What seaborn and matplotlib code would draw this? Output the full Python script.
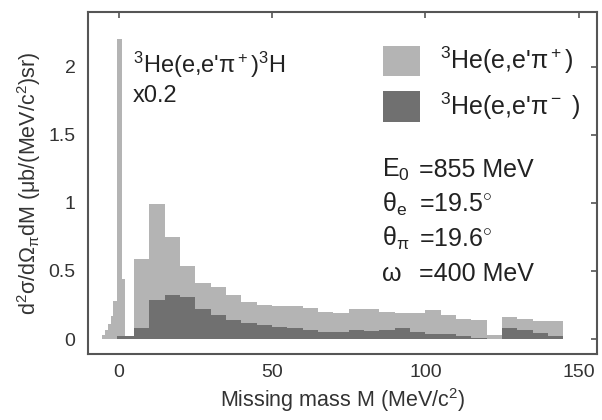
import numpy as np
import pandas as pd
import matplotlib
matplotlib.use("Agg")
import matplotlib.pyplot as plt
import seaborn as sns
from matplotlib.patches import Patch

# ==================================================
# DATA
# ==================================================

# bin edges in missing mass (MeV/c^2): fine bins around the 3H peak, then 5 MeV bins
edges = [-5.5, -4.5, -3.5, -2.5, -1.7, -0.6, 1.0, 2.2,
         5, 10, 15, 20, 25, 30, 35, 40, 45, 50, 55, 60, 65, 70,
         75, 80, 85, 90, 95, 100, 105, 110, 115, 120, 125, 130,
         135, 140, 145]

# 3He(e,e'pi+) cross section per bin (peak region scaled x0.2)
pi_plus = [0.03, 0.07, 0.11, 0.17, 0.28, 2.20, 0.44, 0.02,
           0.59, 0.99, 0.75, 0.54, 0.41, 0.38, 0.32, 0.27, 0.25, 0.24,
           0.24, 0.23, 0.20, 0.19, 0.22, 0.22, 0.20, 0.19, 0.19, 0.21,
           0.18, 0.15, 0.14, 0.03, 0.16, 0.15, 0.13, 0.13]

# 3He(e,e'pi-) cross section per bin
pi_minus = [0.0, 0.0, 0.0, 0.0, 0.0, 0.02, 0.02, 0.02,
            0.08, 0.29, 0.32, 0.31, 0.22, 0.18, 0.14, 0.12, 0.10, 0.09,
            0.08, 0.07, 0.055, 0.05, 0.065, 0.06, 0.07, 0.08, 0.05, 0.04,
            0.04, 0.02, 0.01, 0.0, 0.08, 0.07, 0.045, 0.02]

x_ticks = [0, 50, 100, 150]
y_ticks = [0, 0.5, 1, 1.5, 2]
y_tick_labels = ["0", "0.5", "1", "1.5", "2"]

kinematics = [
    ("E$_0$", "=855 MeV"),
    ("θ$_{\\mathrm{e}}$", "=19.5$^{\\circ}$"),
    ("θ$_{\\mathrm{π}}$", "=19.6$^{\\circ}$"),
    ("ω", "=400 MeV"),
]

light = "#b4b4b4"
dark = "#707070"
text_col = "#333333"
frame_col = "#555555"

# ==================================================
# BUILD TABLE
# ==================================================

edges_arr = np.array(edges)
centers = (edges_arr[:-1] + edges_arr[1:]) / 2

df = pd.DataFrame({
    "M": centers,
    "pi_plus": pi_plus,
    "pi_minus": pi_minus,
})

# ==================================================
# STYLE
# ==================================================

sns.set_style("white")
plt.rcParams["font.family"] = ["Liberation Sans", "DejaVu Sans"]
plt.rcParams["mathtext.fontset"] = "custom"
plt.rcParams["mathtext.rm"] = "Liberation Sans"
plt.rcParams["mathtext.it"] = "Liberation Sans"
plt.rcParams["mathtext.bf"] = "Liberation Sans:bold"

fig = plt.figure(figsize=(6.02, 4.2), dpi=100)
ax = fig.add_axes([0.146, 0.157, 0.846, 0.814])

# ==================================================
# HISTOGRAMS
# ==================================================

sns.histplot(
    data=df, x="M", weights="pi_plus", bins=edges,
    element="step", fill=True, color=light, alpha=1,
    linewidth=0, ax=ax
)

sns.histplot(
    data=df, x="M", weights="pi_minus", bins=edges,
    element="step", fill=True, color=dark, alpha=1,
    linewidth=0, ax=ax
)

# ==================================================
# AXES
# ==================================================

ax.set_xlim(-10, 156)
ax.set_ylim(-0.11, 2.40)
ax.set_xticks(x_ticks)
ax.set_yticks(y_ticks)
ax.set_yticklabels(y_tick_labels)

ax.tick_params(direction="in", top=True, right=True, length=4, width=1.2,
               color=frame_col, labelcolor=text_col, labelsize=14)
ax.tick_params(axis="y", pad=9)
ax.tick_params(axis="x", pad=7)

for s in ax.spines.values():
    s.set_color(frame_col)
    s.set_linewidth(1.5)

ax.set_xlabel("Missing mass M (MeV/c$^2$)", fontsize=15.5, color=text_col, labelpad=4)
ax.set_ylabel("d$^2$σ/dΩ$_{\\mathrm{π}}$dM (μb/(MeV/c$^2$)sr)", fontsize=15.5,
              color=text_col, labelpad=4)

# ==================================================
# ANNOTATIONS
# ==================================================

ax.text(0.088, 0.822, "$^3$He(e,e'π$^+$)$^3$H", transform=ax.transAxes,
        fontsize=17, color="#222222")
ax.text(0.088, 0.737, "x0.2", transform=ax.transAxes,
        fontsize=17, color="#222222")

handles = [Patch(facecolor=light, edgecolor="none"),
           Patch(facecolor=dark, edgecolor="none")]
ax.legend(handles, ["$^3$He(e,e'π$^+$)", "$^3$He(e,e'π$^-$ )"],
          loc="upper left", bbox_to_anchor=(0.580, 0.904),
          frameon=False, fontsize=18, handlelength=1.48, handleheight=1.48,
          handletextpad=0.8, labelspacing=0.56, labelcolor="#222222",
          borderaxespad=0, borderpad=0)

y0 = 0.518
for name, val in kinematics:
    ax.text(0.578, y0, name, transform=ax.transAxes, fontsize=18, color="#222222")
    ax.text(0.650, y0, val, transform=ax.transAxes, fontsize=18, color="#222222")
    y0 -= 0.101

fig.savefig("out.png", dpi=100)
